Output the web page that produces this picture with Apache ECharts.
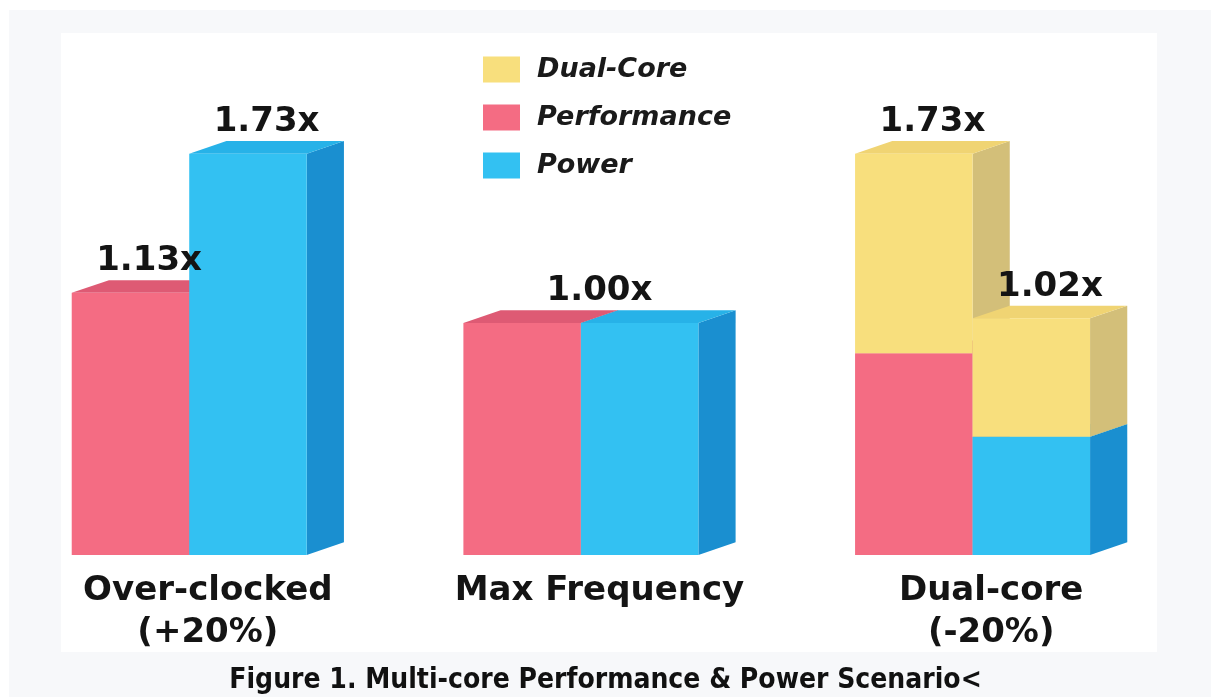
<!DOCTYPE html>
<html>
<head>
<meta charset="utf-8">
<script src="https://cdn.jsdelivr.net/npm/echarts@6/dist/echarts.min.js"></script>
<style>
html, body { margin: 0; padding: 0; background: #fff; }
#chart { width: 1211px; height: 697px; }
</style>
</head>
<body>
<div id="chart"></div>
<script>
// values
var categories = ['Over-clocked\n(+20%)', 'Max Frequency', 'Dual-core\n(-20%)'];
var performance = [1.13, 1.00, 0.87];
var power = [1.73, 1.00, 0.51];
var dualCorePerf = [0, 0, 0.86];   // second core stacked on performance
var dualCorePower = [0, 0, 0.51];  // second core stacked on power

var FONT = 'DejaVu Sans, Verdana, sans-serif';

// face colours: front, top, side
var faces = {
    perf:  ['#f46c83', '#de5a74', '#c9506a'],
    power: ['#33c1f2', '#27b2e8', '#1a8fd0'],
    dual:  ['#f8df7d', '#f0d473', '#d3bf79']
};

// item = [category, base, top, slot(0 left / 1 right), layer]
var perfItems = [], powerItems = [], dualItems = [], labelItems = [];
categories.forEach(function (c, i) {
    perfItems.push([i, 0, performance[i], 0, 0]);
    powerItems.push([i, 0, power[i], 1, 0]);
    if (dualCorePerf[i] > 0) dualItems.push([i, performance[i], performance[i] + dualCorePerf[i], 0, 1]);
    if (dualCorePower[i] > 0) dualItems.push([i, power[i], power[i] + dualCorePower[i], 1, 1]);
    var pt = performance[i] + dualCorePerf[i];
    var wt = power[i] + dualCorePower[i];
    if (Math.abs(pt - wt) < 1e-9) {
        labelItems.push([i, pt, 0.5]);
    } else {
        labelItems.push([i, pt, 0]);
        labelItems.push([i, wt, 1]);
    }
});

function geom(api, cat) {
    var band = api.size([1, 0])[0];
    var bw = band * 0.3, dx = band * 0.095, dy = dx * 0.34;
    var cx = api.coord([cat, 0])[0];
    return { bw: bw, dx: dx, dy: dy, left: cx - (2 * bw + dx) / 2 };
}

function makeBox(col) {
    return function (params, api) {
        var cat = api.value(0), slot = api.value(3), layer = api.value(4);
        var g = geom(api, cat);
        var x0 = g.left + slot * g.bw, x1 = x0 + g.bw;
        var yb = api.coord([cat, api.value(1)])[1];
        var yt = api.coord([cat, api.value(2)])[1];
        var z2 = slot * 10 + layer * 3;
        return {
            type: 'group',
            children: [
                { type: 'polygon', z2: z2,
                  shape: { points: [[x1, yb], [x1 + g.dx, yb - g.dy], [x1 + g.dx, yt - g.dy], [x1, yt]] },
                  style: { fill: col[2] } },
                { type: 'polygon', z2: z2 + 1,
                  shape: { points: [[x0, yt], [x0 + g.dx, yt - g.dy], [x1 + g.dx, yt - g.dy], [x1, yt]] },
                  style: { fill: col[1] } },
                { type: 'rect', z2: z2 + 2,
                  shape: { x: x0, y: yt, width: g.bw, height: yb - yt },
                  style: { fill: col[0] } }
            ]
        };
    };
}

function renderLabel(params, api) {
    var cat = api.value(0), total = api.value(1), slot = api.value(2);
    var g = geom(api, cat);
    var cx = g.left + slot * g.bw + g.bw / 2 + g.dx / 2;
    if (slot === 0.5) cx = g.left + g.bw + g.dx / 2;
    var y = api.coord([cat, total])[1] - g.dy - 2;
    return {
        type: 'text', z2: 50,
        style: {
            x: cx, y: y, text: total.toFixed(2) + 'x',
            align: 'center', verticalAlign: 'bottom',
            font: 'bold 34px ' + FONT, fill: '#141414'
        }
    };
}

var chart = echarts.init(document.getElementById('chart'), null, { renderer: 'canvas' });
chart.setOption({
    animation: false,
    backgroundColor: '#ffffff',
    graphic: [
        { type: 'rect', z: -10, shape: { x: 9, y: 10, width: 1202, height: 687 }, style: { fill: '#f7f8fa' } },
        { type: 'rect', z: -9, shape: { x: 61, y: 33, width: 1096, height: 619 }, style: { fill: '#ffffff' } }
    ],
    title: {
        text: 'Figure 1. Multi-core Performance & Power Scenario<',
        left: 'center', top: 662,
        textStyle: { fontFamily: 'DejaVu Sans Condensed, DejaVu Sans, sans-serif', fontWeight: 'bold', fontSize: 28, color: '#111' }
    },
    legend: {
        data: ['Dual-Core', 'Performance', 'Power'],
        orient: 'vertical', left: 478, top: 51,
        icon: 'rect', itemWidth: 37, itemHeight: 26, itemGap: 21,
        selectedMode: false,
        textStyle: { fontFamily: FONT, fontWeight: 'bold', fontStyle: 'italic', fontSize: 27, color: '#1a1a1a', padding: [0, 0, 0, 12] }
    },
    grid: { left: 12, right: 24, top: 91, bottom: 142 },
    xAxis: {
        type: 'category', data: categories,
        axisLine: { show: false }, axisTick: { show: false }, splitLine: { show: false },
        axisLabel: { interval: 0, margin: 15, fontFamily: FONT, fontWeight: 'bold', fontSize: 34, lineHeight: 42, color: '#141414' }
    },
    yAxis: { type: 'value', min: 0, max: 2, show: false },
    series: [
        { name: 'Dual-Core', type: 'custom', renderItem: makeBox(faces.dual), data: dualItems, itemStyle: { color: faces.dual[0] } },
        { name: 'Performance', type: 'custom', renderItem: makeBox(faces.perf), data: perfItems, itemStyle: { color: faces.perf[0] } },
        { name: 'Power', type: 'custom', renderItem: makeBox(faces.power), data: powerItems, itemStyle: { color: faces.power[0] } },
        { name: 'labels', type: 'custom', renderItem: renderLabel, data: labelItems, silent: true }
    ]
});
</script>
</body>
</html>
